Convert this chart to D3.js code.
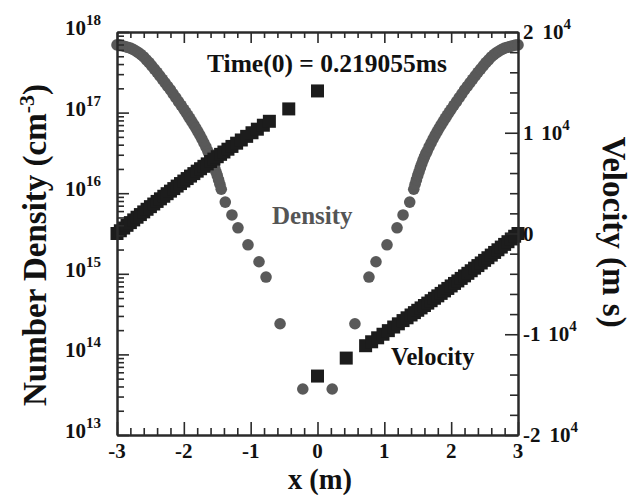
<!DOCTYPE html>
<html>
<head>
<meta charset="utf-8">
<script src="https://cdn.jsdelivr.net/npm/d3@7"></script>
<style>
  html, body { margin: 0; padding: 0; background: #ffffff; }
  svg { display: block; }
  text { font-family: "Liberation Serif", "Times New Roman", serif; font-weight: bold; fill: #111; }
</style>
</head>
<body>
<svg id="chart" width="641" height="495"></svg>
<script>
// Number density profile (cm^-3) at cell centres
const densityX = [
  -3.00, -2.96, -2.92, -2.88, -2.84, -2.80, -2.76, -2.72, -2.68, -2.64,
  -2.60, -2.56, -2.52, -2.48, -2.44, -2.40, -2.36, -2.32, -2.28, -2.24,
  -2.20, -2.16, -2.12, -2.08, -2.04, -2.00, -1.97, -1.94, -1.91, -1.88,
  -1.85, -1.82, -1.79, -1.76, -1.73, -1.70, -1.67, -1.64, -1.62, -1.60,
  -1.58, -1.56, -1.54, -1.52, -1.50, -1.48, -1.46, -1.44, -1.38, -1.28,
  -1.19, -1.04, -0.875, -0.77, -0.56, -0.22,
  0.22, 0.56, 0.77, 0.875, 1.04, 1.19,
  1.28, 1.38, 1.44, 1.46, 1.48, 1.50, 1.52, 1.54, 1.56, 1.58,
  1.60, 1.62, 1.64, 1.67, 1.70, 1.73, 1.76, 1.79, 1.82, 1.85,
  1.88, 1.91, 1.94, 1.97, 2.00, 2.04, 2.08, 2.12, 2.16, 2.20,
  2.24, 2.28, 2.32, 2.36, 2.40, 2.44, 2.48, 2.52, 2.56, 2.60,
  2.64, 2.68, 2.72, 2.76, 2.80, 2.84, 2.88, 2.92, 2.96, 3.00
];
const densityN = [
  6.92e17, 6.89e17, 6.76e17, 6.61e17, 6.46e17, 6.31e17, 6.10e17, 5.82e17, 5.56e17, 5.25e17,
  4.90e17, 4.52e17, 4.17e17, 3.80e17, 3.47e17, 3.16e17, 2.86e17, 2.59e17, 2.34e17, 2.11e17,
  1.91e17, 1.71e17, 1.53e17, 1.37e17, 1.23e17, 1.10e17, 1.01e17, 9.25e16, 8.47e16, 7.73e16,
  7.05e16, 6.43e16, 5.82e16, 5.25e16, 4.73e16, 4.22e16, 3.76e16, 3.31e16, 3.09e16, 2.82e16,
  2.57e16, 2.32e16, 2.09e16, 1.86e16, 1.66e16, 1.46e16, 1.29e16, 1.12e16, 7.76e15, 5.37e15,
  3.72e15, 2.29e15, 1.41e15, 9.12e14, 2.40e14, 3.72e13,
  3.72e13, 2.40e14, 9.12e14, 1.41e15, 2.29e15, 3.72e15,
  5.37e15, 7.76e15, 1.12e16, 1.29e16, 1.46e16, 1.66e16, 1.86e16, 2.09e16, 2.32e16, 2.57e16,
  2.82e16, 3.09e16, 3.31e16, 3.76e16, 4.22e16, 4.73e16, 5.25e16, 5.82e16, 6.43e16, 7.05e16,
  7.73e16, 8.47e16, 9.25e16, 1.01e17, 1.10e17, 1.23e17, 1.37e17, 1.53e17, 1.71e17, 1.91e17,
  2.11e17, 2.34e17, 2.59e17, 2.86e17, 3.16e17, 3.47e17, 3.80e17, 4.17e17, 4.52e17, 4.90e17,
  5.25e17, 5.56e17, 5.82e17, 6.10e17, 6.31e17, 6.46e17, 6.61e17, 6.76e17, 6.89e17, 6.92e17
];

// Flow velocity (m/s) at cell nodes
const velocityX = [
  -3.00, -2.95, -2.90, -2.85, -2.80, -2.75, -2.70, -2.65, -2.60, -2.55,
  -2.50, -2.45, -2.40, -2.35, -2.30, -2.25, -2.20, -2.15, -2.10, -2.05,
  -2.00, -1.95, -1.90, -1.85, -1.80, -1.75, -1.70, -1.65, -1.60, -1.55,
  -1.50, -1.45, -1.40, -1.34, -1.28, -1.21, -1.14, -1.06, -0.98, -0.90,
  -0.81, -0.72, -0.43, 0.00,
  0.00, 0.43, 0.72, 0.81, 0.90, 0.98, 1.06, 1.14, 1.21, 1.28,
  1.34, 1.40, 1.45, 1.50, 1.55, 1.60, 1.65, 1.70, 1.75, 1.80,
  1.85, 1.90, 1.95, 2.00, 2.05, 2.10, 2.15, 2.20, 2.25, 2.30,
  2.35, 2.40, 2.45, 2.50, 2.55, 2.60, 2.65, 2.70, 2.75, 2.80,
  2.85, 2.90, 2.95, 3.00
];
const velocityV = [
  0, 272, 543, 813, 1081, 1349, 1615, 1879, 2143, 2405,
  2666, 2925, 3184, 3441, 3697, 3952, 4205, 4457, 4708, 4957,
  5206, 5453, 5699, 5944, 6187, 6429, 6670, 6910, 7148, 7385,
  7621, 7855, 8088, 8367, 8643, 8964, 9282, 9642, 9999, 10353,
  10747, 11137, 12366, 14150,
  -14150, -12366, -11137, -10747, -10353, -9999, -9642, -9282, -8964, -8643,
  -8367, -8088, -7855, -7621, -7385, -7148, -6910, -6670, -6429, -6187,
  -5944, -5699, -5453, -5206, -4957, -4708, -4457, -4205, -3952, -3697,
  -3441, -3184, -2925, -2666, -2405, -2143, -1879, -1615, -1349, -1081,
  -813, -543, -272, 0
];

// Axis ticks and labels
const xTicks = [-3, -2, -1, 0, 1, 2, 3];
const xTickLabels = ["-3", "-2", "-1", "0", "1", "2", "3"];
const densityExponents = [13, 14, 15, 16, 17, 18];
const velocityTicks = [-20000, -10000, 0, 10000, 20000];
const velocityMantissas = ["-2", "-1", "0", "1", "2"];
const velocityExponent = "4";

const titleText = "Time(0) = 0.219055ms";

const svg = d3.select("#chart");
const L = 117, R = 518, T = 32, B = 435;

const x = d3.scaleLinear().domain([-3, 3]).range([L, R]);
const yD = d3.scaleLog().domain([1e13, 1e18]).range([B, T]);
const yV = d3.scaleLinear().domain([-20000, 20000]).range([B, T]);

const axisColor = "#2a2a2a";

// --- markers: density circles under velocity squares
const plot = svg.append("g");
plot.selectAll("circle.density")
  .data(densityX.map((d, i) => ({ x: d, n: densityN[i] })))
  .join("circle")
  .attr("class", "density")
  .attr("cx", d => x(d.x))
  .attr("cy", d => yD(d.n))
  .attr("r", 5.8)
  .attr("fill", "#595959");

const sq = 13;
plot.selectAll("rect.velocity")
  .data(velocityX.map((d, i) => ({ x: d, v: velocityV[i] })))
  .join("rect")
  .attr("class", "velocity")
  .attr("x", d => x(d.x) - sq / 2)
  .attr("y", d => yV(d.v) - sq / 2)
  .attr("width", sq)
  .attr("height", sq)
  .attr("fill", "#1c1c1c");

// --- axes
function styleAxis(g) {
  g.selectAll("path.domain").attr("stroke", axisColor).attr("stroke-width", 2);
  g.selectAll(".tick line").attr("stroke", axisColor).attr("stroke-width", 1.6);
  g.selectAll(".tick text").remove();
}

const xMinor = d3.range(-30, 31, 2).map(v => v / 10).filter(v => !xTicks.includes(v));
// bottom
svg.append("g").attr("transform", `translate(0,${B})`)
  .call(d3.axisBottom(x).tickValues(xTicks).tickSize(-13).tickSizeOuter(0)).call(styleAxis);
svg.append("g").attr("transform", `translate(0,${B})`)
  .call(d3.axisBottom(x).tickValues(xMinor).tickSize(-7).tickSizeOuter(0)).call(styleAxis);
// top
svg.append("g").attr("transform", `translate(0,${T})`)
  .call(d3.axisTop(x).tickValues(xTicks).tickSize(-11).tickSizeOuter(0)).call(styleAxis);
svg.append("g").attr("transform", `translate(0,${T})`)
  .call(d3.axisTop(x).tickValues(xMinor).tickSize(-6).tickSizeOuter(0)).call(styleAxis);

// left (log density)
const dMajor = densityExponents.map(e => Math.pow(10, e));
const dMinor = [];
densityExponents.slice(0, -1).forEach(e => {
  for (let m = 2; m <= 9; m++) dMinor.push(m * Math.pow(10, e));
});
svg.append("g").attr("transform", `translate(${L},0)`)
  .call(d3.axisLeft(yD).tickValues(dMajor).tickSize(-12).tickSizeOuter(0)).call(styleAxis);
svg.append("g").attr("transform", `translate(${L},0)`)
  .call(d3.axisLeft(yD).tickValues(dMinor).tickSize(-7).tickSizeOuter(0)).call(styleAxis);

// right (velocity)
const vMinor = d3.range(-20000, 20001, 2000).filter(v => !velocityTicks.includes(v));
svg.append("g").attr("transform", `translate(${R},0)`)
  .call(d3.axisRight(yV).tickValues(velocityTicks).tickSize(-13).tickSizeOuter(0)).call(styleAxis);
svg.append("g").attr("transform", `translate(${R},0)`)
  .call(d3.axisRight(yV).tickValues(vMinor).tickSize(-8).tickSizeOuter(0)).call(styleAxis);

// --- tick labels
svg.append("g").selectAll("text")
  .data(xTicks)
  .join("text")
  .attr("x", d => x(d))
  .attr("y", 457.5)
  .attr("text-anchor", "middle")
  .attr("font-size", 21)
  .text((d, i) => xTickLabels[i]);

const leftLabels = svg.append("g").selectAll("text")
  .data(densityExponents)
  .join("text")
  .attr("x", 65)
  .attr("y", d => yD(Math.pow(10, d)) + 3)
  .attr("font-size", 21);
leftLabels.append("tspan").text("10");
leftLabels.append("tspan").attr("dy", -10).attr("font-size", 15).text(d => d);

const rightLabels = svg.append("g").selectAll("text")
  .data(velocityTicks)
  .join("text")
  .attr("x", 523)
  .attr("y", d => yV(d) + 7)
  .attr("font-size", 21);
rightLabels.append("tspan").text((d, i) => velocityMantissas[i]);
rightLabels.filter(d => d !== 0).append("tspan").attr("dx", 9).text("10");
rightLabels.filter(d => d !== 0).append("tspan").attr("dy", -10).attr("font-size", 15).text(velocityExponent);

// --- axis titles
svg.append("text")
  .attr("x", 320).attr("y", 488.5)
  .attr("text-anchor", "middle")
  .attr("font-size", 28.5)
  .text("x (m)");

const yTitle = svg.append("text")
  .attr("transform", "translate(46,245) rotate(-90)")
  .attr("text-anchor", "middle")
  .attr("font-size", 33);
yTitle.append("tspan").text("Number Density (cm");
yTitle.append("tspan").attr("dy", -12).attr("font-size", 22).text("-3");
yTitle.append("tspan").attr("dy", 12).text(")");

svg.append("text")
  .attr("transform", "translate(603,232) rotate(90)")
  .attr("text-anchor", "middle")
  .attr("font-size", 33)
  .text("Velocity (m s)");

// --- annotations
svg.append("text")
  .attr("x", 327).attr("y", 72)
  .attr("text-anchor", "middle")
  .attr("font-size", 25.5)
  .text(titleText);

svg.append("text")
  .attr("x", 272).attr("y", 224)
  .attr("font-size", 25)
  .style("fill", "#555555")
  .text("Density");

svg.append("text")
  .attr("x", 391).attr("y", 365)
  .attr("font-size", 24.5)
  .text("Velocity");
</script>
</body>
</html>
